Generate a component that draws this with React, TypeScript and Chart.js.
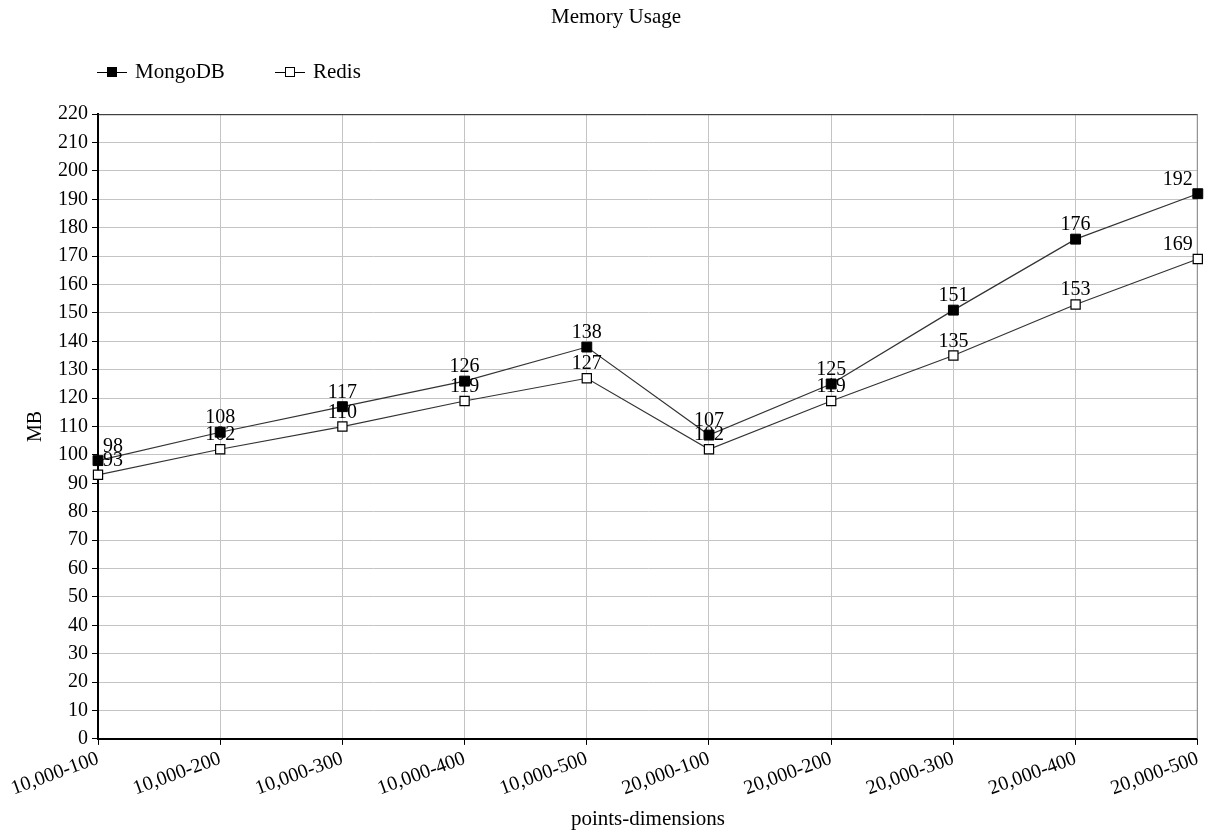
import React, { useEffect, useRef } from "react";
import { Chart, registerables } from "chart.js";

Chart.register(...registerables);

const categories = [
  "10,000-100",
  "10,000-200",
  "10,000-300",
  "10,000-400",
  "10,000-500",
  "20,000-100",
  "20,000-200",
  "20,000-300",
  "20,000-400",
  "20,000-500",
];
const mongoValues = [98, 108, 117, 126, 138, 107, 125, 151, 176, 192];
const redisValues = [93, 102, 110, 119, 127, 102, 119, 135, 153, 169];
const seriesNames = ["MongoDB", "Redis"];

const FONT = "'Liberation Serif', 'Times New Roman', serif";

const dataLabelPlugin = {
  id: "dataLabels",
  afterDatasetsDraw(chart: any) {
    const ctx = chart.ctx;
    ctx.save();
    ctx.font = `20px ${FONT}`;
    ctx.fillStyle = "#000";
    ctx.textBaseline = "alphabetic";
    chart.data.datasets.forEach((ds: any, di: number) => {
      const meta = chart.getDatasetMeta(di);
      meta.data.forEach((pt: any, i: number) => {
        const v = ds.data[i];
        let x = pt.x;
        if (i === 0) {
          ctx.textAlign = "left";
          x = pt.x + 5;
        } else if (i === meta.data.length - 1) {
          ctx.textAlign = "right";
          x = pt.x - 5;
        } else {
          ctx.textAlign = "center";
        }
        ctx.fillText(String(v), x, pt.y - 9);
      });
    });
    ctx.restore();
  },
};

const customLegendPlugin = {
  id: "customLegend",
  afterDraw(chart: any) {
    const ctx = chart.ctx;
    const y = 72;
    const items = [
      { x: 97, filled: true, text: seriesNames[0] },
      { x: 275, filled: false, text: seriesNames[1] },
    ];
    ctx.save();
    ctx.font = `21px ${FONT}`;
    ctx.textBaseline = "middle";
    ctx.textAlign = "left";
    items.forEach((it) => {
      ctx.strokeStyle = "#000";
      ctx.lineWidth = 1;
      ctx.beginPath();
      ctx.moveTo(it.x, y + 0.5);
      ctx.lineTo(it.x + 30, y + 0.5);
      ctx.stroke();
      if (it.filled) {
        ctx.fillStyle = "#000";
        ctx.fillRect(it.x + 10, y - 5, 10, 10);
      } else {
        ctx.fillStyle = "#fff";
        ctx.fillRect(it.x + 10.5, y - 4.5, 9, 9);
        ctx.strokeRect(it.x + 10.5, y - 4.5, 9, 9);
      }
      ctx.fillStyle = "#000";
      ctx.fillText(it.text, it.x + 38, y);
    });
    ctx.restore();
  },
};

const framePlugin = {
  id: "frame",
  beforeDatasetsDraw(chart: any) {
    const { ctx, chartArea } = chart;
    ctx.save();
    ctx.strokeStyle = "#222";
    ctx.lineWidth = 1;
    ctx.beginPath();
    ctx.moveTo(chartArea.left, chartArea.top + 0.5);
    ctx.lineTo(chartArea.right, chartArea.top + 0.5);
    ctx.stroke();
    ctx.strokeStyle = "#888";
    ctx.beginPath();
    ctx.moveTo(chartArea.right - 0.5, chartArea.top);
    ctx.lineTo(chartArea.right - 0.5, chartArea.bottom);
    ctx.stroke();
    ctx.restore();
  },
};

export default function App() {
  const ref = useRef<HTMLCanvasElement | null>(null);

  useEffect(() => {
    if (!ref.current) return;
    const chart = new Chart(ref.current, {
      type: "line",
      data: {
        labels: categories,
        datasets: [
          {
            label: seriesNames[0],
            data: mongoValues,
            borderColor: "#333",
            borderWidth: 1.2,
            backgroundColor: "#000",
            pointStyle: "rect",
            pointRadius: 7,
            pointBackgroundColor: "#000",
            pointBorderColor: "#000",
            pointBorderWidth: 1,
            tension: 0,
            clip: false,
          },
          {
            label: seriesNames[1],
            data: redisValues,
            borderColor: "#333",
            borderWidth: 1.2,
            backgroundColor: "#fff",
            pointStyle: "rect",
            pointRadius: 6.5,
            pointBackgroundColor: "#fff",
            pointBorderColor: "#000",
            pointBorderWidth: 1.2,
            tension: 0,
            clip: false,
          },
        ],
      },
      options: {
        responsive: false,
        animation: false,
        layout: { padding: { left: 24, right: 0, top: 0, bottom: 2 } },
        plugins: {
          title: {
            display: true,
            text: "Memory Usage",
            color: "#000",
            font: { family: FONT, size: 21, weight: "normal" },
            padding: { top: 5, bottom: 84 },
          },
          legend: { display: false },
          tooltip: { enabled: false },
        },
        scales: {
          x: {
            offset: false,
            grid: {
              color: "#c4c4c4",
              tickColor: "#000",
              tickLength: 6,
              drawTicks: true,
            },
            border: { color: "#000", width: 2 },
            ticks: {
              color: "#000",
              font: { family: FONT, size: 20 },
              minRotation: 20,
              maxRotation: 20,
              autoSkip: false,
              padding: 2,
            },
            title: {
              display: true,
              text: "points-dimensions",
              color: "#000",
              font: { family: FONT, size: 21 },
              padding: { top: 4, bottom: 0 },
            },
          },
          y: {
            min: 0,
            max: 220,
            grid: {
              color: "#c4c4c4",
              tickColor: "#000",
              tickLength: 6,
            },
            border: { color: "#000", width: 2 },
            ticks: {
              stepSize: 10,
              color: "#000",
              font: { family: FONT, size: 20 },
              padding: 4,
            },
            title: {
              display: true,
              text: "MB",
              color: "#000",
              font: { family: FONT, size: 20 },
              padding: { top: 0, bottom: 6 },
            },
          },
        },
      },
      plugins: [dataLabelPlugin, framePlugin, customLegendPlugin],
    });
    return () => chart.destroy();
  }, []);

  return (
    <div style={{ position: "fixed", left: 0, top: 0, width: 1208, height: 834, background: "#fff" }}>
      <canvas ref={ref} width={1208} height={834} style={{ width: 1208, height: 834 }} />
    </div>
  );
}
